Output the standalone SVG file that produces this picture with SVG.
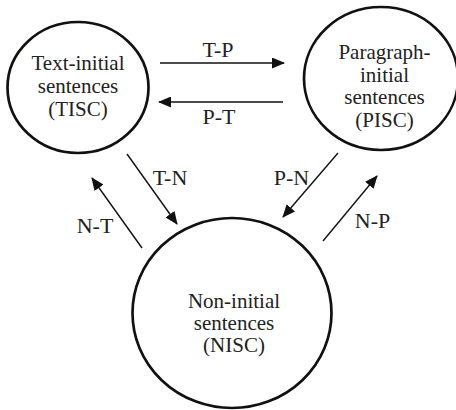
<svg xmlns="http://www.w3.org/2000/svg" width="456" height="410" viewBox="0 0 456 410">
<style>
.node{fill:none;stroke:#111;stroke-width:2.7}
.c{stroke:#111;stroke-width:1.4;fill:none;marker-end:url(#ah)}
.t{font-size:21px}
.l{font-size:22px}
</style>
<defs>
<marker id="ah" viewBox="0 0 13 11" refX="12" refY="5.5" markerWidth="13" markerHeight="11" markerUnits="userSpaceOnUse" orient="auto">
<path d="M0,0 L13,5.5 L0,11 z" fill="#111"/>
</marker>
</defs>
<g font-family="Liberation Serif, Times New Roman, DejaVu Serif, serif" fill="#222" text-anchor="middle">
<g id="TISC" class="t">
<ellipse class="node" cx="78" cy="87.5" rx="70.5" ry="65.5"/>
<text x="78" y="70">Text-initial</text>
<text x="78" y="92.5">sentences</text>
<text x="78" y="115.5">(TISC)</text>
</g>
<g id="PISC" class="t">
<ellipse class="node" cx="381" cy="78.5" rx="77" ry="71.5"/>
<text x="384.5" y="59">Paragraph-</text>
<text x="384.5" y="81.5">initial</text>
<text x="384.5" y="104">sentences</text>
<text x="384.5" y="126.5">(PISC)</text>
</g>
<g id="NISC" class="t">
<ellipse class="node" cx="232" cy="313" rx="99.5" ry="95"/>
<text x="234" y="308">Non-initial</text>
<text x="234" y="330">sentences</text>
<text x="234" y="352">(NISC)</text>
</g>
<g id="connectors" class="l">
<line class="c" x1="160" y1="63" x2="284" y2="63"/>
<line class="c" x1="283" y1="102" x2="159" y2="102"/>
<line class="c" x1="127" y1="154" x2="177" y2="224"/>
<line class="c" x1="142" y1="248" x2="92" y2="178"/>
<line class="c" x1="338" y1="153" x2="283" y2="217"/>
<line class="c" x1="323" y1="241" x2="377" y2="176"/>
<text x="218" y="57">T-P</text>
<text x="219" y="124">P-T</text>
<text x="170" y="185">T-N</text>
<text x="95" y="233">N-T</text>
<text x="291.5" y="185">P-N</text>
<text x="372.5" y="228">N-P</text>
</g>
</g>
</svg>
